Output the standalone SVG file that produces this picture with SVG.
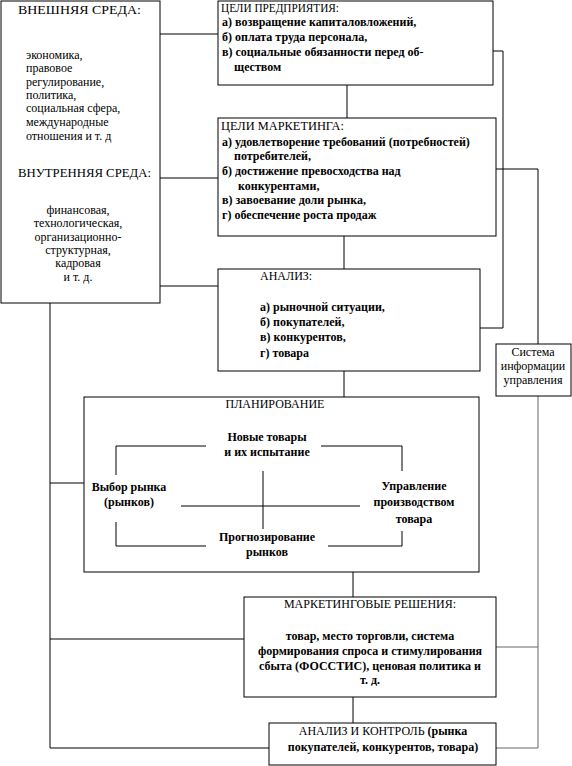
<svg xmlns="http://www.w3.org/2000/svg" width="572" height="766" viewBox="0 0 572 766" font-family="'Liberation Serif', 'Times New Roman', 'DejaVu Serif', serif" font-size="12">
<style>
.box{fill:#fff;stroke:#000;stroke-width:1}
.ln{fill:none;stroke:#000;stroke-width:1}
.g{stroke:#666}
text{font-family:'Liberation Serif','Times New Roman','DejaVu Serif',serif;font-size:12px;fill:#000}
.h{font-size:13.5px}
.b{font-weight:bold}
.c{text-anchor:middle}
</style>
<rect width="572" height="766" fill="#fff"/>
<g id="connectors">
<path class="ln" d="M160,34H218M160,178H218M160,286H218"/>
<path class="ln" d="M347,85V118M344,236V269M344,371V397M353,572V597M353,697V723"/>
<path class="ln" d="M493,51H503V328H480"/>
<path class="ln" d="M496,169H538V344"/>
<path class="ln g" d="M538,396V748H496M496,647H538"/>
<path class="ln" d="M50,303V748H269M50,639H244M50,483H84"/>
</g>
<g id="env">
<rect class="box" x="1" y="1" width="159" height="302"/>
<text class="h" x="18" y="14" textLength="123" lengthAdjust="spacingAndGlyphs">ВНЕШНЯЯ СРЕДА:</text>
<text x="26" y="59">экономика,</text>
<text x="26" y="72">правовое</text>
<text x="26" y="86">регулирование,</text>
<text x="26" y="99">политика,</text>
<text x="26" y="112">социальная сфера,</text>
<text x="26" y="126">международные</text>
<text x="26" y="140">отношения и т. д</text>
<text class="h" x="18" y="177" textLength="133" lengthAdjust="spacingAndGlyphs">ВНУТРЕННЯЯ СРЕДА:</text>
<text class="c" x="78" y="214">финансовая,</text>
<text class="c" x="78" y="227">технологическая,</text>
<text class="c" x="78" y="241">организационно-</text>
<text class="c" x="78" y="254">структурная,</text>
<text class="c" x="78" y="267">кадровая</text>
<text class="c" x="78" y="281">и т. д.</text>
</g>
<g id="goals-enterprise">
<rect class="box" x="218" y="1" width="275" height="84"/>
<text x="221" y="12" textLength="118" lengthAdjust="spacingAndGlyphs">ЦЕЛИ ПРЕДПРИЯТИЯ:</text>
<text class="b" x="222" y="26">а) возвращение капиталовложений,</text>
<text class="b" x="222" y="41">б) оплата труда персонала,</text>
<text class="b" x="222" y="56">в) социальные обязанности перед об-</text>
<text class="b" x="234" y="71">ществом</text>
</g>
<g id="goals-marketing">
<rect class="box" x="218" y="118" width="278" height="118"/>
<text x="221" y="130" textLength="123" lengthAdjust="spacingAndGlyphs">ЦЕЛИ МАРКЕТИНГА:</text>
<text class="b" x="222" y="146">а) удовлетворение требований (потребностей)</text>
<text class="b" x="234" y="160">потребителей,</text>
<text class="b" x="222" y="175">б) достижение превосходства над</text>
<text class="b" x="238" y="190">конкурентами,</text>
<text class="b" x="222" y="204">в) завоевание доли рынка,</text>
<text class="b" x="222" y="219">г) обеспечение роста продаж</text>
</g>
<g id="analysis">
<rect class="box" x="218" y="269" width="262" height="102"/>
<text x="260" y="280">АНАЛИЗ:</text>
<text class="b" x="260" y="311">а) рыночной ситуации,</text>
<text class="b" x="260" y="326">б) покупателей,</text>
<text class="b" x="260" y="341">в) конкурентов,</text>
<text class="b" x="260" y="357">г) товара</text>
</g>
<g id="info-system">
<rect class="box" x="496" y="344" width="75" height="52"/>
<text class="c" x="533" y="356">Система</text>
<text class="c" x="533" y="370">информации</text>
<text class="c" x="533" y="384">управления</text>
</g>
<g id="planning">
<rect class="box" x="84" y="397" width="395" height="175"/>
<text class="c" x="275" y="408">ПЛАНИРОВАНИЕ</text>
<path class="ln" d="M206,446H116V475M321,446H402V471M116,522V546H206M328,546H402V531M263,471V529M181,506H360"/>
<text class="c b" x="267" y="441">Новые товары</text>
<text class="c b" x="267" y="456">и их испытание</text>
<text class="c b" x="129" y="491">Выбор рынка</text>
<text class="c b" x="129" y="506">(рынков)</text>
<text class="c b" x="414" y="490">Управление</text>
<text class="c b" x="414" y="506">производством</text>
<text class="c b" x="414" y="523">товара</text>
<text class="c b" x="267" y="541">Прогнозирование</text>
<text class="c b" x="267" y="556">рынков</text>
</g>
<g id="decisions">
<rect class="box" x="244" y="597" width="252" height="100"/>
<text class="c" x="370" y="608">МАРКЕТИНГОВЫЕ РЕШЕНИЯ:</text>
<text class="c b" x="370" y="640">товар, место торговли, система</text>
<text class="c b" x="370" y="655">формирования спроса и стимулирования</text>
<text class="c b" x="370" y="670">сбыта (ФОССТИС), ценовая политика и</text>
<text class="c b" x="370" y="684">т. д.</text>
</g>
<g id="control">
<rect class="box" x="269" y="723" width="227" height="42"/>
<text class="c" x="383" y="735">АНАЛИЗ И КОНТРОЛЬ <tspan class="b">(рынка</tspan></text>
<text class="c b" x="383" y="751">покупателей, конкурентов, товара)</text>
</g>
</svg>
